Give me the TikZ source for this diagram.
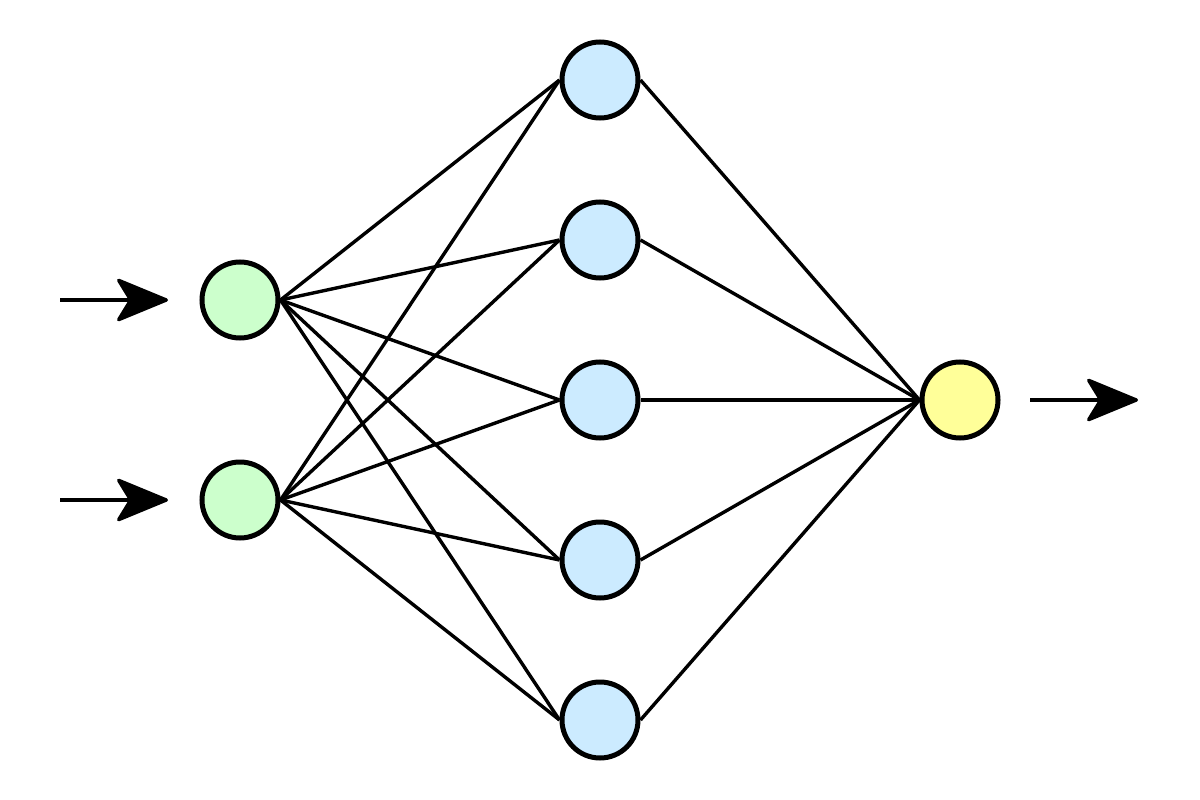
\documentclass[tikz,border=0pt]{standalone}
\usetikzlibrary{arrows.meta}
\definecolor{ingreen}{HTML}{CCFFCC}
\definecolor{hidblue}{HTML}{CCEBFF}
\definecolor{outyel}{HTML}{FFFF99}
\begin{document}
\begin{tikzpicture}[x=1pt,y=-1pt,
  neuron/.style={circle,draw=black,line width=5pt,minimum size=76pt,inner sep=0pt},
  conn/.style={line width=3.4pt},
  sig/.style={line width=3.4pt,-{Stealth[length=56pt,width=46pt,inset=14pt,round]}}]
\useasboundingbox (0,0) rectangle (1200,800);
\node[neuron,fill=ingreen] (i1) at (240,300) {};
\node[neuron,fill=ingreen] (i2) at (240,500) {};
\foreach \k/\y in {1/80,2/240,3/400,4/560,5/720}
  \node[neuron,fill=hidblue] (h\k) at (600,\y) {};
\node[neuron,fill=outyel] (o) at (960,400) {};
\foreach \i in {1,2}
  \foreach \k in {1,...,5}
    \draw[conn] (i\i.east) -- (h\k.west);
\foreach \k in {1,...,5}
  \draw[conn] (h\k.east) -- (o.west);
\coordinate (a1s) at (60,300);
\coordinate (a1e) at (168,300);
\coordinate (a2s) at (60,500);
\coordinate (a2e) at (168,500);
\coordinate (a3s) at (1030,400);
\coordinate (a3e) at (1138,400);
\draw[sig] (a1s) -- (a1e);
\draw[sig] (a2s) -- (a2e);
\draw[sig] (a3s) -- (a3e);
\end{tikzpicture}
\end{document}
